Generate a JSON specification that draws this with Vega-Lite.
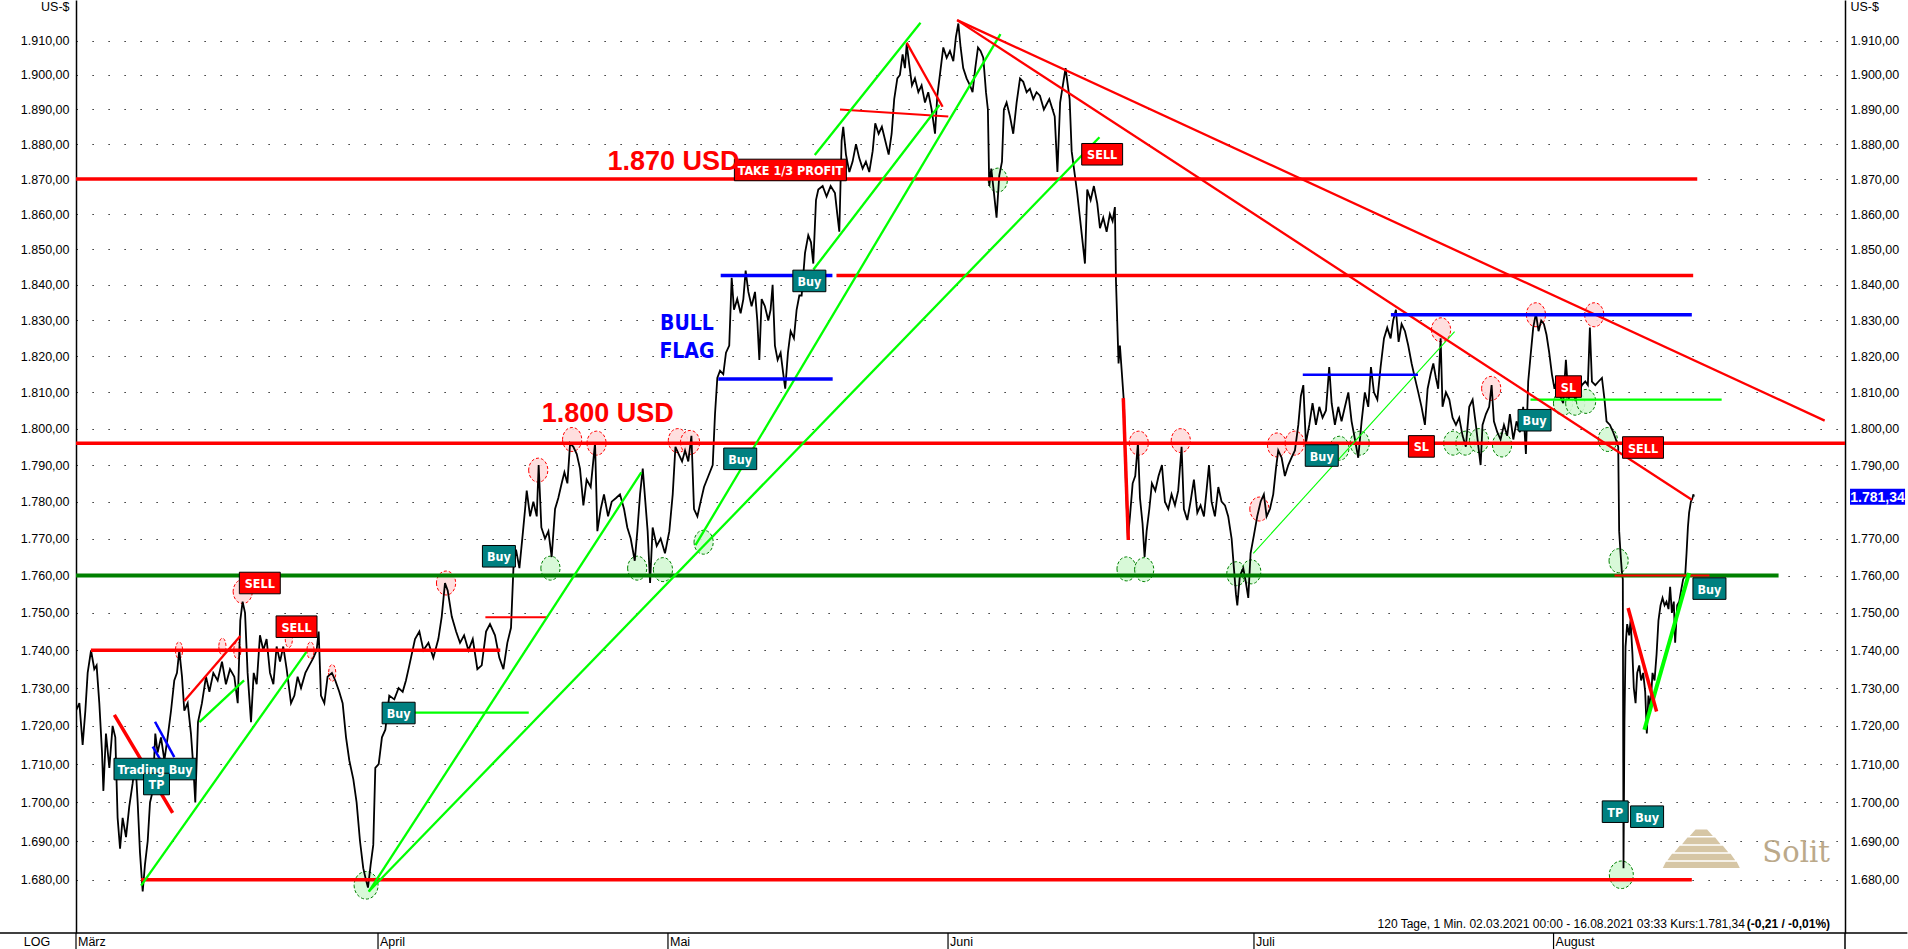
{
"$schema": "https://vega.github.io/schema/vega-lite/v6.json",
"width": 1769, "height": 933,
"autosize": "none",
"padding": {"left": 76, "top": 0, "right": 63, "bottom": 16},
"background": "white",
"config": {"view": {"stroke": null}, "font": "Liberation Sans"},
"resolve": {"axis": {"y": "independent"}},
"datasets": {
"price": [
{"t":0,"p":1724},{"t":0.25,"p":1726},{"t":0.49,"p":1715},{"t":0.69,"p":1724},{"t":0.86,"p":1734},{"t":1.11,"p":1740},{"t":1.35,"p":1735},{"t":1.52,"p":1736},{"t":1.72,"p":1726},{"t":1.92,"p":1713},{"t":2.02,"p":1703},{"t":2.21,"p":1718},{"t":2.46,"p":1709},{"t":2.7,"p":1720},{"t":2.9,"p":1717},{"t":3.07,"p":1696},{"t":3.25,"p":1688},{"t":3.44,"p":1696},{"t":3.69,"p":1691},{"t":3.93,"p":1699},{"t":4.18,"p":1705},{"t":4.38,"p":1711},{"t":4.55,"p":1700},{"t":4.72,"p":1687},{"t":4.92,"p":1677},{"t":5.09,"p":1684},{"t":5.29,"p":1690},{"t":5.46,"p":1700},{"t":5.66,"p":1703},{"t":5.85,"p":1718},{"t":6.02,"p":1713},{"t":6.27,"p":1717},{"t":6.52,"p":1711},{"t":6.76,"p":1717},{"t":7.01,"p":1724},{"t":7.25,"p":1732},{"t":7.45,"p":1734},{"t":7.62,"p":1740},{"t":7.82,"p":1733},{"t":7.99,"p":1724},{"t":8.24,"p":1726},{"t":8.48,"p":1718},{"t":8.66,"p":1709},{"t":8.8,"p":1700},{"t":9.0,"p":1721},{"t":9.29,"p":1726},{"t":9.59,"p":1733},{"t":9.84,"p":1729},{"t":10.13,"p":1734},{"t":10.45,"p":1732},{"t":10.77,"p":1737},{"t":11.06,"p":1731},{"t":11.36,"p":1735},{"t":11.68,"p":1733},{"t":11.93,"p":1726},{"t":12.12,"p":1748},{"t":12.29,"p":1753},{"t":12.47,"p":1750},{"t":12.66,"p":1734},{"t":12.91,"p":1721},{"t":13.11,"p":1734},{"t":13.33,"p":1731},{"t":13.57,"p":1744},{"t":13.82,"p":1740},{"t":14.06,"p":1743},{"t":14.31,"p":1734},{"t":14.56,"p":1731},{"t":14.8,"p":1741},{"t":15.05,"p":1737},{"t":15.29,"p":1741},{"t":15.54,"p":1735},{"t":15.86,"p":1726},{"t":16.11,"p":1728},{"t":16.35,"p":1733},{"t":16.6,"p":1730},{"t":16.92,"p":1734},{"t":17.21,"p":1736},{"t":17.51,"p":1738},{"t":17.75,"p":1740},{"t":17.9,"p":1745},{"t":18.07,"p":1728},{"t":18.32,"p":1726},{"t":18.56,"p":1733},{"t":18.88,"p":1734},{"t":19.13,"p":1732},{"t":19.42,"p":1729},{"t":19.67,"p":1726},{"t":19.92,"p":1717},{"t":20.16,"p":1711},{"t":20.46,"p":1706},{"t":20.7,"p":1700},{"t":20.95,"p":1690},{"t":21.19,"p":1683},{"t":21.39,"p":1680},{"t":21.54,"p":1678},{"t":21.74,"p":1684},{"t":21.93,"p":1689},{"t":22.08,"p":1709},{"t":22.33,"p":1710},{"t":22.57,"p":1717},{"t":22.82,"p":1719},{"t":23.11,"p":1728},{"t":23.48,"p":1727},{"t":23.8,"p":1730},{"t":24.1,"p":1729},{"t":24.34,"p":1732},{"t":24.59,"p":1736},
{"t":25.01,"p":1743},{"t":25.33,"p":1745},{"t":25.63,"p":1740},{"t":26.0,"p":1742},{"t":26.36,"p":1738},{"t":26.73,"p":1743},{"t":26.98,"p":1749},{"t":27.22,"p":1758},{"t":27.42,"p":1756},{"t":27.72,"p":1749},{"t":28.04,"p":1745},{"t":28.33,"p":1742},{"t":28.63,"p":1744},{"t":28.95,"p":1740},{"t":29.27,"p":1743},{"t":29.61,"p":1735},{"t":29.93,"p":1736},{"t":30.25,"p":1745},{"t":30.54,"p":1747},{"t":30.91,"p":1744},{"t":31.23,"p":1738},{"t":31.53,"p":1735},{"t":31.82,"p":1742},{"t":32.09,"p":1746},{"t":32.27,"p":1762},{"t":32.46,"p":1767},{"t":32.71,"p":1762},{"t":32.95,"p":1771},{"t":33.13,"p":1778},{"t":33.25,"p":1783},{"t":33.5,"p":1776},{"t":33.74,"p":1780},{"t":33.99,"p":1776},{"t":34.13,"p":1790},{"t":34.33,"p":1773},{"t":34.6,"p":1770},{"t":34.85,"p":1772},{"t":35.09,"p":1765},{"t":35.34,"p":1778},{"t":35.58,"p":1781},{"t":35.83,"p":1785},{"t":36.03,"p":1788},{"t":36.25,"p":1785},{"t":36.45,"p":1796},{"t":36.69,"p":1795},{"t":36.94,"p":1793},{"t":37.18,"p":1789},{"t":37.43,"p":1779},{"t":37.67,"p":1786},{"t":37.97,"p":1784},{"t":38.29,"p":1796},{"t":38.46,"p":1772},{"t":38.71,"p":1778},{"t":38.95,"p":1782},{"t":39.25,"p":1776},{"t":39.52,"p":1780},{"t":39.84,"p":1781},{"t":40.13,"p":1782},{"t":40.43,"p":1778},{"t":40.67,"p":1773},{"t":40.92,"p":1770},{"t":41.22,"p":1764},{"t":41.41,"p":1772},{"t":41.61,"p":1782},{"t":41.81,"p":1789},{"t":42.0,"p":1780},{"t":42.17,"p":1772},{"t":42.35,"p":1758},{"t":42.54,"p":1773},{"t":42.84,"p":1768},{"t":43.13,"p":1770},{"t":43.45,"p":1766},{"t":43.77,"p":1772},{"t":44.02,"p":1782},{"t":44.22,"p":1795},{"t":44.46,"p":1793},{"t":44.71,"p":1791},{"t":44.93,"p":1794},{"t":45.17,"p":1791},{"t":45.4,"p":1798},{"t":45.59,"p":1778},{"t":45.84,"p":1776},{"t":46.08,"p":1780},{"t":46.33,"p":1784},{"t":46.65,"p":1787},{"t":46.97,"p":1790},
{"t":47.14,"p":1804},{"t":47.31,"p":1814},{"t":47.51,"p":1816},{"t":47.75,"p":1815},{"t":47.95,"p":1821},{"t":48.19,"p":1823},{"t":48.37,"p":1842},{"t":48.54,"p":1833},{"t":48.78,"p":1836},{"t":49.03,"p":1832},{"t":49.23,"p":1836},{"t":49.4,"p":1844},{"t":49.6,"p":1838},{"t":49.84,"p":1834},{"t":50.09,"p":1838},{"t":50.26,"p":1830},{"t":50.41,"p":1819},{"t":50.58,"p":1836},{"t":50.82,"p":1834},{"t":51.07,"p":1830},{"t":51.24,"p":1833},{"t":51.39,"p":1840},{"t":51.56,"p":1823},{"t":51.76,"p":1819},{"t":51.98,"p":1821},{"t":52.18,"p":1815},{"t":52.32,"p":1811},{"t":52.52,"p":1821},{"t":52.72,"p":1827},{"t":52.96,"p":1825},{"t":53.16,"p":1833},{"t":53.36,"p":1837},{"t":53.53,"p":1837},{"t":53.78,"p":1849},{"t":54.02,"p":1854},{"t":54.22,"p":1852},{"t":54.39,"p":1846},{"t":54.59,"p":1864},{"t":54.76,"p":1867},{"t":55.08,"p":1868},{"t":55.37,"p":1865},{"t":55.67,"p":1868},{"t":55.99,"p":1866},{"t":56.16,"p":1860},{"t":56.31,"p":1855},{"t":56.48,"p":1881},{"t":56.6,"p":1885},{"t":56.8,"p":1877},{"t":57.05,"p":1872},{"t":57.29,"p":1875},{"t":57.54,"p":1880},{"t":57.78,"p":1876},{"t":58.03,"p":1873},{"t":58.27,"p":1875},{"t":58.52,"p":1872},{"t":58.77,"p":1878},{"t":58.96,"p":1886},{"t":59.21,"p":1883},{"t":59.45,"p":1885},{"t":59.7,"p":1881},{"t":59.95,"p":1877},{"t":60.17,"p":1883},{"t":60.36,"p":1893},{"t":60.59,"p":1899},{"t":60.78,"p":1900},{"t":60.98,"p":1906},{"t":61.15,"p":1902},{"t":61.28,"p":1909},{"t":61.47,"p":1903},{"t":61.67,"p":1897},{"t":61.89,"p":1899},{"t":62.14,"p":1895},{"t":62.38,"p":1897},{"t":62.63,"p":1892},{"t":62.87,"p":1895},{"t":63.12,"p":1890},{"t":63.37,"p":1883},{"t":63.54,"p":1894},{"t":63.73,"p":1900},{"t":63.98,"p":1908},{"t":64.23,"p":1905},{"t":64.47,"p":1907},{"t":64.72,"p":1904},{"t":64.91,"p":1911},{"t":65.09,"p":1915},{"t":65.26,"p":1908},{"t":65.45,"p":1902},{"t":65.7,"p":1899},{"t":65.95,"p":1897},{"t":66.14,"p":1895},{"t":66.34,"p":1902},{"t":66.54,"p":1908},{"t":66.73,"p":1907},{"t":66.93,"p":1905},{"t":67.13,"p":1895},{"t":67.27,"p":1890},{"t":67.37,"p":1868},{"t":67.52,"p":1873},{"t":67.72,"p":1866},{"t":67.91,"p":1859},{"t":68.11,"p":1871},{"t":68.31,"p":1875},{"t":68.45,"p":1890},{"t":68.65,"p":1892},{"t":68.9,"p":1888},{"t":69.14,"p":1883},{"t":69.39,"p":1892},{"t":69.64,"p":1899},{"t":69.88,"p":1898},{"t":70.13,"p":1895},{"t":70.37,"p":1896},{"t":70.62,"p":1893},{"t":70.86,"p":1895},{"t":71.11,"p":1894},
{"t":71.4,"p":1890},{"t":71.8,"p":1893},{"t":72.2,"p":1888},{"t":72.4,"p":1872},{"t":72.6,"p":1892},{"t":73.0,"p":1902},{"t":73.3,"p":1893},
{"t":73.45,"p":1878},{"t":73.69,"p":1871},{"t":73.86,"p":1866},{"t":74.06,"p":1859},{"t":74.26,"p":1852},{"t":74.43,"p":1846},{"t":74.6,"p":1867},{"t":74.85,"p":1864},{"t":75.09,"p":1868},{"t":75.34,"p":1863},{"t":75.54,"p":1856},{"t":75.78,"p":1859},{"t":76.03,"p":1855},{"t":76.27,"p":1860},{"t":76.47,"p":1858},{"t":76.64,"p":1862},{"t":76.72,"p":1841},{"t":76.81,"p":1830},{"t":76.91,"p":1818},{"t":77.01,"p":1823},{"t":77.16,"p":1815},{"t":77.31,"p":1807},{"t":77.45,"p":1785},{"t":77.6,"p":1770},{"t":77.75,"p":1776},{"t":77.95,"p":1785},{"t":78.14,"p":1787},{"t":78.34,"p":1796},{"t":78.49,"p":1781},{"t":78.68,"p":1774},{"t":78.83,"p":1765},{"t":78.98,"p":1772},{"t":79.18,"p":1778},{"t":79.37,"p":1785},{"t":79.62,"p":1783},{"t":79.86,"p":1787},{"t":80.11,"p":1790},{"t":80.33,"p":1780},{"t":80.58,"p":1778},{"t":80.82,"p":1782},{"t":81.07,"p":1779},{"t":81.31,"p":1783},{"t":81.56,"p":1795},{"t":81.73,"p":1778},{"t":81.98,"p":1775},{"t":82.22,"p":1780},{"t":82.47,"p":1786},{"t":82.72,"p":1777},{"t":82.96,"p":1779},{"t":83.21,"p":1776},{"t":83.4,"p":1783},{"t":83.58,"p":1790},{"t":83.77,"p":1780},{"t":84.02,"p":1776},{"t":84.27,"p":1784},{"t":84.51,"p":1780},{"t":84.76,"p":1779},{"t":85.0,"p":1776},{"t":85.25,"p":1770},{"t":85.42,"p":1762},{"t":85.57,"p":1755},{"t":85.67,"p":1752},{"t":85.86,"p":1760},{"t":86.11,"p":1762},{"t":86.31,"p":1758},{"t":86.48,"p":1754},{"t":86.65,"p":1766},{"t":86.9,"p":1771},{"t":87.14,"p":1776},{"t":87.39,"p":1780},{"t":87.63,"p":1782},{"t":87.83,"p":1776},{"t":88.08,"p":1778},{"t":88.32,"p":1782},{"t":88.52,"p":1789},{"t":88.69,"p":1794},{"t":88.94,"p":1792},{"t":89.18,"p":1787},{"t":89.43,"p":1790},{"t":89.67,"p":1792},{"t":89.92,"p":1794},{"t":90.17,"p":1801},{"t":90.36,"p":1809},{"t":90.54,"p":1812},{"t":90.73,"p":1796},{"t":90.98,"p":1801},{"t":91.22,"p":1807},{"t":91.47,"p":1801},{"t":91.72,"p":1806},{"t":91.96,"p":1803},{"t":92.21,"p":1805},{"t":92.45,"p":1817},{"t":92.63,"p":1807},{"t":92.87,"p":1801},{"t":93.12,"p":1806},
{"t":93.36,"p":1802},{"t":93.61,"p":1806},{"t":93.86,"p":1810},{"t":94.1,"p":1802},{"t":94.35,"p":1797},{"t":94.59,"p":1792},{"t":94.84,"p":1802},{"t":95.08,"p":1810},{"t":95.33,"p":1806},{"t":95.53,"p":1817},{"t":95.75,"p":1810},{"t":96.0,"p":1808},{"t":96.24,"p":1817},{"t":96.49,"p":1825},{"t":96.73,"p":1828},{"t":96.98,"p":1825},{"t":97.17,"p":1830},{"t":97.37,"p":1833},{"t":97.57,"p":1824},{"t":97.79,"p":1829},{"t":98.04,"p":1827},{"t":98.28,"p":1823},{"t":98.53,"p":1818},{"t":98.77,"p":1814},{"t":99.02,"p":1810},{"t":99.26,"p":1806},{"t":99.51,"p":1801},{"t":99.71,"p":1811},{"t":99.93,"p":1815},{"t":100.13,"p":1818},{"t":100.32,"p":1814},{"t":100.49,"p":1811},{"t":100.67,"p":1825},{"t":100.81,"p":1806},{"t":101.06,"p":1810},{"t":101.31,"p":1808},{"t":101.55,"p":1803},{"t":101.8,"p":1801},{"t":102.04,"p":1803},{"t":102.29,"p":1798},{"t":102.53,"p":1795},{"t":102.78,"p":1806},{"t":103.03,"p":1808},{"t":103.27,"p":1801},{"t":103.52,"p":1793},{"t":103.62,"p":1790},{"t":103.76,"p":1801},{"t":104.01,"p":1804},{"t":104.25,"p":1806},{"t":104.43,"p":1812},{"t":104.6,"p":1802},{"t":104.85,"p":1799},{"t":105.09,"p":1797},{"t":105.34,"p":1801},{"t":105.58,"p":1798},{"t":105.78,"p":1804},{"t":106.03,"p":1797},{"t":106.27,"p":1802},{"t":106.52,"p":1799},{"t":106.76,"p":1806},{"t":106.96,"p":1793},{"t":107.13,"p":1813},{"t":107.3,"p":1820},{"t":107.5,"p":1828},{"t":107.7,"p":1832},{"t":107.89,"p":1827},{"t":108.09,"p":1830},{"t":108.29,"p":1829},{"t":108.48,"p":1826},{"t":108.68,"p":1821},{"t":108.88,"p":1815},{"t":109.07,"p":1811},{"t":109.27,"p":1814},{"t":109.47,"p":1809},{"t":109.71,"p":1807},{"t":109.91,"p":1819},{"t":110.11,"p":1808},{"t":110.35,"p":1811},{"t":110.6,"p":1808},{"t":110.85,"p":1810},{"t":111.09,"p":1812},{"t":111.34,"p":1813},{"t":111.53,"p":1812},{"t":111.68,"p":1828},{"t":111.83,"p":1813},{"t":112.08,"p":1812},{"t":112.32,"p":1813},{"t":112.57,"p":1814},{"t":112.76,"p":1808},{"t":112.91,"p":1802},{"t":113.16,"p":1801},{"t":113.4,"p":1799},{"t":113.6,"p":1797},
{"t":113.77,"p":1795},{"t":113.84,"p":1772},{"t":113.94,"p":1766},{"t":114.04,"p":1761},{"t":114.11,"p":1759},{"t":114.16,"p":1683},{"t":114.23,"p":1721},{"t":114.31,"p":1741},{"t":114.43,"p":1747},{"t":114.58,"p":1744},{"t":114.68,"p":1748},{"t":114.82,"p":1739},{"t":114.92,"p":1730},{"t":115.05,"p":1726},{"t":115.17,"p":1734},{"t":115.32,"p":1736},{"t":115.46,"p":1732},{"t":115.61,"p":1734},{"t":115.76,"p":1729},{"t":115.88,"p":1718},{"t":116.0,"p":1728},{"t":116.15,"p":1725},{"t":116.3,"p":1734},{"t":116.45,"p":1732},{"t":116.6,"p":1739},{"t":116.74,"p":1748},{"t":116.89,"p":1752},{"t":117.04,"p":1754},{"t":117.19,"p":1752},{"t":117.33,"p":1753},{"t":117.48,"p":1751},{"t":117.6,"p":1757},{"t":117.73,"p":1750},{"t":117.87,"p":1753},{"t":117.97,"p":1742},{"t":118.12,"p":1752},{"t":118.27,"p":1753},{"t":118.41,"p":1756},{"t":118.56,"p":1759},{"t":118.71,"p":1760},{"t":118.81,"p":1766},{"t":118.91,"p":1773},{"t":119.0,"p":1777},{"t":119.13,"p":1780},{"t":119.25,"p":1781},{"t":119.32,"p":1782},{"t":119.35,"p":1781.34}
],
"circles": [
{"t":12.3,"p":1755.7,"side":"high","form":"normal"},{"t":7.6,"p":1740,"side":"high","form":"narrow"},{"t":10.8,"p":1741,"side":"high","form":"narrow"},{"t":11.9,"p":1740,"side":"high","form":"narrow"},{"t":15.7,"p":1743,"side":"high","form":"narrow"},{"t":17.3,"p":1740,"side":"high","form":"narrow"},{"t":18.9,"p":1734,"side":"high","form":"narrow"},{"t":27.3,"p":1758,"side":"high","form":"normal"},{"t":34.1,"p":1788.6,"side":"high","form":"normal"},{"t":36.6,"p":1797,"side":"high","form":"normal"},{"t":38.4,"p":1796,"side":"high","form":"normal"},{"t":44.4,"p":1796.7,"side":"high","form":"normal"},{"t":45.3,"p":1796.2,"side":"high","form":"normal"},{"t":78.4,"p":1796,"side":"high","form":"normal"},{"t":81.5,"p":1796.7,"side":"high","form":"normal"},{"t":87.3,"p":1778,"side":"high","form":"normal"},{"t":88.6,"p":1795.5,"side":"high","form":"normal"},{"t":89.9,"p":1796,"side":"high","form":"normal"},{"t":100.7,"p":1827.4,"side":"high","form":"normal"},{"t":104.4,"p":1811.1,"side":"high","form":"normal"},{"t":107.7,"p":1831.6,"side":"high","form":"normal"},{"t":112.0,"p":1831.6,"side":"high","form":"normal"},
{"t":21.4,"p":1678.6,"side":"low","form":"big"},{"t":35.0,"p":1762,"side":"low","form":"normal"},{"t":41.4,"p":1762,"side":"low","form":"normal"},{"t":43.3,"p":1761.6,"side":"low","form":"normal"},{"t":46.3,"p":1769,"side":"low","form":"normal"},{"t":68.0,"p":1869.7,"side":"low","form":"normal"},{"t":77.5,"p":1761.8,"side":"low","form":"normal"},{"t":78.8,"p":1761.6,"side":"low","form":"normal"},{"t":85.6,"p":1760.5,"side":"low","form":"normal"},{"t":86.7,"p":1761,"side":"low","form":"normal"},{"t":93.2,"p":1794.6,"side":"low","form":"normal"},{"t":94.7,"p":1796,"side":"low","form":"normal"},{"t":101.6,"p":1796,"side":"low","form":"normal"},{"t":102.5,"p":1796,"side":"low","form":"normal"},{"t":103.5,"p":1796.7,"side":"low","form":"normal"},{"t":105.2,"p":1795.5,"side":"low","form":"normal"},{"t":109.7,"p":1807,"side":"low","form":"normal"},{"t":110.6,"p":1807,"side":"low","form":"normal"},{"t":111.4,"p":1807.5,"side":"low","form":"normal"},{"t":113.0,"p":1797,"side":"low","form":"normal"},{"t":113.8,"p":1764,"side":"low","form":"normal"},{"t":114.0,"p":1681.3,"side":"low","form":"big"}
],
"segs": [
{"t1":0,"p1":1760,"t2":125.6,"p2":1760,"kind":"support"},
{"t1":0,"p1":1870,"t2":119.6,"p2":1870,"kind":"level"},
{"t1":56.1,"p1":1842.6,"t2":119.3,"p2":1842.6,"kind":"level"},
{"t1":0,"p1":1796,"t2":130.5,"p2":1796,"kind":"level"},
{"t1":4.8,"p1":1680,"t2":119.2,"p2":1680,"kind":"level"},
{"t1":1.1,"p1":1740,"t2":31.3,"p2":1740,"kind":"level"},
{"t1":30.2,"p1":1748.8,"t2":34.8,"p2":1748.8,"kind":"levelThin"},
{"t1":56.36,"p1":1890,"t2":64.35,"p2":1888,"kind":"levelThin"},
{"t1":113.5,"p1":1760,"t2":120.5,"p2":1760,"kind":"levelThin"},
{"t1":23.4,"p1":1723.5,"t2":33.4,"p2":1723.5,"kind":"stop"},
{"t1":107.3,"p1":1808,"t2":121.4,"p2":1808,"kind":"stop"},
{"t1":4.8,"p1":1678.5,"t2":17.0,"p2":1739.6,"kind":"trend"},
{"t1":9.1,"p1":1721,"t2":12.4,"p2":1732,"kind":"trend"},
{"t1":21.6,"p1":1677,"t2":41.7,"p2":1788,"kind":"trend"},
{"t1":21.6,"p1":1677,"t2":75.5,"p2":1882,"kind":"trend"},
{"t1":45.7,"p1":1768.2,"t2":68.2,"p2":1911.9,"kind":"trend"},
{"t1":54.5,"p1":1876.9,"t2":62.3,"p2":1915.2,"kind":"trend"},
{"t1":54.4,"p1":1844.3,"t2":63.7,"p2":1891.3,"kind":"trend"},
{"t1":86.85,"p1":1766,"t2":101.7,"p2":1826.9,"kind":"trendThin"},
{"t1":115.7,"p1":1719,"t2":119.0,"p2":1760.7,"kind":"trendThick"},
{"t1":65.0,"p1":1916,"t2":129.0,"p2":1802.2,"kind":"trendRed"},
{"t1":65.0,"p1":1916,"t2":119.2,"p2":1780.5,"kind":"trendRed"},
{"t1":7.99,"p1":1726.6,"t2":12.12,"p2":1743.8,"kind":"trendRed"},
{"t1":61.28,"p1":1909.4,"t2":63.93,"p2":1890.8,"kind":"trendRed"},
{"t1":114.5,"p1":1751.3,"t2":116.6,"p2":1723.8,"kind":"trendRedThick"},
{"t1":2.83,"p1":1722.9,"t2":7.13,"p2":1697.3,"kind":"trendRedThick"},
{"t1":77.26,"p1":1808.4,"t2":77.63,"p2":1769.6,"kind":"trendRedThick"},
{"t1":47.56,"p1":1842.6,"t2":55.8,"p2":1842.6,"kind":"flag"},
{"t1":47.38,"p1":1813.7,"t2":55.82,"p2":1813.7,"kind":"flag"},
{"t1":97.0,"p1":1831.6,"t2":119.2,"p2":1831.6,"kind":"flag"},
{"t1":90.5,"p1":1814.9,"t2":99.0,"p2":1814.9,"kind":"flagThin"},
{"t1":5.83,"p1":1721.1,"t2":7.25,"p2":1711.8,"kind":"flagThin"},
{"t1":5.66,"p1":1714.6,"t2":6.59,"p2":1708.9,"kind":"flagThin"}
],
"labels": [
{"t":5.83,"p":1708.7,"text":"Trading Buy","kind":"buy"},
{"t":5.94,"p":1704.8,"text":"TP","kind":"buy"},
{"t":23.8,"p":1723.4,"text":"Buy","kind":"buy"},
{"t":31.2,"p":1765.2,"text":"Buy","kind":"buy"},
{"t":49.0,"p":1791.7,"text":"Buy","kind":"buy"},
{"t":54.1,"p":1841.1,"text":"Buy","kind":"buy"},
{"t":91.9,"p":1792.6,"text":"Buy","kind":"buy"},
{"t":107.6,"p":1802.3,"text":"Buy","kind":"buy"},
{"t":120.5,"p":1756.5,"text":"Buy","kind":"buy"},
{"t":113.55,"p":1697.6,"text":"TP","kind":"buy"},
{"t":115.9,"p":1696.3,"text":"Buy","kind":"buy"},
{"t":13.56,"p":1758.0,"text":"SELL","kind":"sell"},
{"t":16.27,"p":1746.3,"text":"SELL","kind":"sell"},
{"t":52.7,"p":1872.6,"text":"TAKE 1/3 PROFIT","kind":"sell"},
{"t":75.7,"p":1877.1,"text":"SELL","kind":"sell"},
{"t":99.25,"p":1795.1,"text":"SL","kind":"sell"},
{"t":110.1,"p":1811.6,"text":"SL","kind":"sell"},
{"t":115.6,"p":1794.8,"text":"SELL","kind":"sell"}
],
"notes": [
{"t":39.2,"p":1872.6,"text":"1.870 USD","kind":"level"},
{"t":34.35,"p":1801.9,"text":"1.800 USD","kind":"level"},
{"t":45.07,"p":1827.3,"text":"BULL","kind":"flag"},
{"t":45.07,"p":1819.4,"text":"FLAG","kind":"flag"},
{"t":123.12,"p":1668.6,"text":"120 Tage, 1 Min. 02.03.2021 00:00 - 16.08.2021 03:33  Kurs:1.781,34","kind":"info"},
{"t":129.4,"p":1668.6,"text":"(-0,21 / -0,01%)","kind":"infoBold"},
{"t":124.4,"p":1684.7,"text":"Solit","kind":"brand"},
{"t":0,"p":1664.2,"text":"März","kind":"month"},
{"t":22.28,"p":1664.2,"text":"April","kind":"month"},
{"t":43.67,"p":1664.2,"text":"Mai","kind":"month"},
{"t":64.33,"p":1664.2,"text":"Juni","kind":"month"},
{"t":86.9,"p":1664.2,"text":"Juli","kind":"month"},
{"t":109.0,"p":1664.2,"text":"August","kind":"month"},
{"t":-2.88,"p":1664.2,"text":"LOG","kind":"axisName"}
],
"logo": [{"t":119.9,"p":1688.0}],
"tag": [{"t":132.9,"p":1781.34,"text":"1.781,34"}]
},
"layer": [
{"data":{"name":"circles"},"transform":[{"filter":"datum.side === 'high'"}],
 "mark":{"type":"point","filled":true,"size":576,"fill":"#ffdcdc","stroke":"#ff0000","strokeWidth":1,"strokeDash":[3,2],"opacity":1,"fillOpacity":0.9},
 "encoding":{
  "x":{"field":"t","type":"quantitative","scale":{"domain":[0,130.5],"nice":false,"zero":false},
   "axis":{"values":[0,22.28,43.67,64.33,86.9,109.0],"labels":false,"grid":false,"domain":true,"domainColor":"#000000","domainWidth":1.5,"ticks":true,"tickSize":16,"tickColor":"#000000","tickWidth":1,"title":null}},
  "y":{"field":"p","type":"quantitative","scale":{"type":"log","domain":[1666.4,1921.9],"nice":false,"zero":false},"axis":null},
  "shape":{"field":"form","type":"nominal","legend":null,"scale":{"domain":["normal","big","narrow","Buy","SELL","TP","SL","Trading Buy","TAKE 1/3 PROFIT"],"range":["M-0.8,0A0.8,1 0 1,0 0.8,0A0.8,1 0 1,0 -0.8,0Z","M-1,0A1,1.15 0 1,0 1,0A1,1.15 0 1,0 -1,0Z","M-0.3,0A0.3,0.7 0 1,0 0.3,0A0.3,0.7 0 1,0 -0.3,0Z","M-1.5,-0.98H1.5V0.98H-1.5Z","M-1.86,-0.98H1.86V0.98H-1.86Z","M-1.18,-0.98H1.18V0.98H-1.18Z","M-1.18,-0.98H1.18V0.98H-1.18Z","M-3.73,-0.98H3.73V0.98H-3.73Z","M-5.09,-0.98H5.09V0.98H-5.09Z"]}}
 }},
{"data":{"name":"circles"},"transform":[{"filter":"datum.side === 'low'"}],
 "mark":{"type":"point","filled":true,"size":576,"fill":"#d4f8d4","stroke":"#008000","strokeWidth":1,"strokeDash":[3,2],"opacity":1,"fillOpacity":0.9},
 "encoding":{
  "x":{"field":"t","type":"quantitative","axis":null},
  "y":{"field":"p","type":"quantitative","axis":null},
  "shape":{"field":"form","type":"nominal","legend":null,"scale":{"domain":["normal","big","narrow","Buy","SELL","TP","SL","Trading Buy","TAKE 1/3 PROFIT"],"range":["M-0.8,0A0.8,1 0 1,0 0.8,0A0.8,1 0 1,0 -0.8,0Z","M-1,0A1,1.15 0 1,0 1,0A1,1.15 0 1,0 -1,0Z","M-0.3,0A0.3,0.7 0 1,0 0.3,0A0.3,0.7 0 1,0 -0.3,0Z","M-1.5,-0.98H1.5V0.98H-1.5Z","M-1.86,-0.98H1.86V0.98H-1.86Z","M-1.18,-0.98H1.18V0.98H-1.18Z","M-1.18,-0.98H1.18V0.98H-1.18Z","M-3.73,-0.98H3.73V0.98H-3.73Z","M-5.09,-0.98H5.09V0.98H-5.09Z"]}}
 }},
{"data":{"name":"price"},
 "mark":{"type":"line","color":"#000000","strokeWidth":1.8,"clip":true,"strokeJoin":"miter"},
 "encoding":{
  "x":{"field":"t","type":"quantitative","axis":null},
  "y":{"field":"p","type":"quantitative","axis":{"orient":"left","values":[1680,1690,1700,1710,1720,1730,1740,1750,1760,1770,1780,1790,1800,1810,1820,1830,1840,1850,1860,1870,1880,1890,1900,1910],"labelExpr":"replace(replace(replace(format(datum.value, ',.2f'), ',', 'T'), '.', ','), 'T', '.')","grid":true,"gridDash":[1.2,14.8],"gridColor":"#000000","gridWidth":1.2,"gridOpacity":1,"domain":true,"domainColor":"#000000","domainWidth":1.5,"ticks":false,"labelPadding":7,"labelFontSize":12.5,"labelColor":"#000000","labelFont":"Liberation Sans","labelOverlap":false,"labelFlush":false,"title":"US-$","titleAngle":0,"titleX":-7,"titleY":6,"titleAlign":"right","titleBaseline":"middle","titleFontWeight":"normal","titleFontSize":12.5,"titleColor":"#000000","titleFont":"Liberation Sans"}}
 }},
{"data":{"name":"notes"},"transform":[{"filter":"datum.kind === 'month'"}],
 "mark":{"type":"rule","color":"#000000","strokeWidth":1.2},
 "encoding":{"x":{"field":"t","type":"quantitative","axis":null},"y":{"datum":1666.4,"type":"quantitative","axis":null},"y2":{"datum":1662.3}}},
{"data":{"name":"logo"},
 "mark":{"type":"rule","color":"#000000","strokeWidth":1.5},
 "encoding":{"x":{"datum":-5.61,"type":"quantitative","axis":null},"x2":{"datum":135.1},"y":{"datum":1666.4,"type":"quantitative","axis":null}}},
{"data":{"name":"logo"},
 "mark":{"type":"rule","color":"#000000","strokeWidth":1.5},
 "encoding":{"x":{"datum":130.5,"type":"quantitative","axis":null},"y":{"datum":1666.4,"type":"quantitative","axis":null},"y2":{"datum":1662.3}}},
{"data":{"name":"segs"},"transform":[{"filter":"datum.kind === 'support'"}],"mark":{"type":"rule","color":"#008000","strokeWidth":4},
 "encoding":{"x":{"field":"t1","type":"quantitative","axis":null},"x2":{"field":"t2"},"y":{"field":"p1","type":"quantitative","axis":null},"y2":{"field":"p2"}}},
{"data":{"name":"segs"},"transform":[{"filter":"datum.kind === 'level'"}],"mark":{"type":"rule","color":"#ff0000","strokeWidth":3.5},
 "encoding":{"x":{"field":"t1","type":"quantitative","axis":null},"x2":{"field":"t2"},"y":{"field":"p1","type":"quantitative","axis":null},"y2":{"field":"p2"}}},
{"data":{"name":"segs"},"transform":[{"filter":"datum.kind === 'levelThin'"}],"mark":{"type":"rule","color":"#ff0000","strokeWidth":2},
 "encoding":{"x":{"field":"t1","type":"quantitative","axis":null},"x2":{"field":"t2"},"y":{"field":"p1","type":"quantitative","axis":null},"y2":{"field":"p2"}}},
{"data":{"name":"segs"},"transform":[{"filter":"datum.kind === 'stop'"}],"mark":{"type":"rule","color":"#00ff00","strokeWidth":2.2},
 "encoding":{"x":{"field":"t1","type":"quantitative","axis":null},"x2":{"field":"t2"},"y":{"field":"p1","type":"quantitative","axis":null},"y2":{"field":"p2"}}},
{"data":{"name":"segs"},"transform":[{"filter":"datum.kind === 'trend'"}],"mark":{"type":"rule","color":"#00ff00","strokeWidth":2.3},
 "encoding":{"x":{"field":"t1","type":"quantitative","axis":null},"x2":{"field":"t2"},"y":{"field":"p1","type":"quantitative","axis":null},"y2":{"field":"p2"}}},
{"data":{"name":"segs"},"transform":[{"filter":"datum.kind === 'trendThin'"}],"mark":{"type":"rule","color":"#00ff00","strokeWidth":1.1},
 "encoding":{"x":{"field":"t1","type":"quantitative","axis":null},"x2":{"field":"t2"},"y":{"field":"p1","type":"quantitative","axis":null},"y2":{"field":"p2"}}},
{"data":{"name":"segs"},"transform":[{"filter":"datum.kind === 'trendThick'"}],"mark":{"type":"rule","color":"#00ff00","strokeWidth":4},
 "encoding":{"x":{"field":"t1","type":"quantitative","axis":null},"x2":{"field":"t2"},"y":{"field":"p1","type":"quantitative","axis":null},"y2":{"field":"p2"}}},
{"data":{"name":"segs"},"transform":[{"filter":"datum.kind === 'trendRed'"}],"mark":{"type":"rule","color":"#ff0000","strokeWidth":2.3},
 "encoding":{"x":{"field":"t1","type":"quantitative","axis":null},"x2":{"field":"t2"},"y":{"field":"p1","type":"quantitative","axis":null},"y2":{"field":"p2"}}},
{"data":{"name":"segs"},"transform":[{"filter":"datum.kind === 'trendRedThick'"}],"mark":{"type":"rule","color":"#ff0000","strokeWidth":3.5},
 "encoding":{"x":{"field":"t1","type":"quantitative","axis":null},"x2":{"field":"t2"},"y":{"field":"p1","type":"quantitative","axis":null},"y2":{"field":"p2"}}},
{"data":{"name":"segs"},"transform":[{"filter":"datum.kind === 'flag'"}],"mark":{"type":"rule","color":"#0000ff","strokeWidth":3.5},
 "encoding":{"x":{"field":"t1","type":"quantitative","axis":null},"x2":{"field":"t2"},"y":{"field":"p1","type":"quantitative","axis":null},"y2":{"field":"p2"}}},
{"data":{"name":"segs"},"transform":[{"filter":"datum.kind === 'flagThin'"}],"mark":{"type":"rule","color":"#0000ff","strokeWidth":2.5},
 "encoding":{"x":{"field":"t1","type":"quantitative","axis":null},"x2":{"field":"t2"},"y":{"field":"p1","type":"quantitative","axis":null},"y2":{"field":"p2"}}},
{"data":{"name":"labels"},"transform":[{"filter":"datum.kind === 'buy'"}],
 "mark":{"type":"point","filled":true,"size":484,"fill":"#008080","stroke":"#000000","strokeWidth":1,"opacity":1},
 "encoding":{
  "x":{"field":"t","type":"quantitative","axis":null},
  "y":{"field":"p","type":"quantitative","axis":null},
  "shape":{"field":"text","type":"nominal","legend":null,"scale":{"domain":["normal","big","narrow","Buy","SELL","TP","SL","Trading Buy","TAKE 1/3 PROFIT"],"range":["M-0.8,0A0.8,1 0 1,0 0.8,0A0.8,1 0 1,0 -0.8,0Z","M-1,0A1,1.15 0 1,0 1,0A1,1.15 0 1,0 -1,0Z","M-0.3,0A0.3,0.7 0 1,0 0.3,0A0.3,0.7 0 1,0 -0.3,0Z","M-1.5,-0.98H1.5V0.98H-1.5Z","M-1.86,-0.98H1.86V0.98H-1.86Z","M-1.18,-0.98H1.18V0.98H-1.18Z","M-1.18,-0.98H1.18V0.98H-1.18Z","M-3.73,-0.98H3.73V0.98H-3.73Z","M-5.09,-0.98H5.09V0.98H-5.09Z"]}}
 }},
{"data":{"name":"labels"},"transform":[{"filter":"datum.kind === 'sell'"}],
 "mark":{"type":"point","filled":true,"size":484,"fill":"#ff0000","stroke":"#000000","strokeWidth":1,"opacity":1},
 "encoding":{
  "x":{"field":"t","type":"quantitative","axis":null},
  "y":{"field":"p","type":"quantitative","axis":null},
  "shape":{"field":"text","type":"nominal","legend":null,"scale":{"domain":["normal","big","narrow","Buy","SELL","TP","SL","Trading Buy","TAKE 1/3 PROFIT"],"range":["M-0.8,0A0.8,1 0 1,0 0.8,0A0.8,1 0 1,0 -0.8,0Z","M-1,0A1,1.15 0 1,0 1,0A1,1.15 0 1,0 -1,0Z","M-0.3,0A0.3,0.7 0 1,0 0.3,0A0.3,0.7 0 1,0 -0.3,0Z","M-1.5,-0.98H1.5V0.98H-1.5Z","M-1.86,-0.98H1.86V0.98H-1.86Z","M-1.18,-0.98H1.18V0.98H-1.18Z","M-1.18,-0.98H1.18V0.98H-1.18Z","M-3.73,-0.98H3.73V0.98H-3.73Z","M-5.09,-0.98H5.09V0.98H-5.09Z"]}}
 }},
{"data":{"name":"labels"},
 "mark":{"type":"text","color":"#ffffff","font":"Liberation Sans Narrow, DejaVu Sans Condensed, sans-serif","fontWeight":"bold","fontSize":12.5,"align":"center","baseline":"middle","dy":1},
 "encoding":{"x":{"field":"t","type":"quantitative","axis":null},"y":{"field":"p","type":"quantitative","axis":null},"text":{"field":"text"}}},
{"data":{"name":"notes"},"transform":[{"filter":"datum.kind === 'level'"}],
 "mark":{"type":"text","color":"#ff0000","font":"Liberation Sans","fontWeight":"bold","fontSize":27,"align":"left","baseline":"alphabetic"},
 "encoding":{"x":{"field":"t","type":"quantitative","axis":null},"y":{"field":"p","type":"quantitative","axis":null},"text":{"field":"text"}}},
{"data":{"name":"notes"},"transform":[{"filter":"datum.kind === 'flag'"}],
 "mark":{"type":"text","color":"#0000ff","font":"DejaVu Sans Condensed, DejaVu Sans","fontWeight":"bold","fontSize":21,"align":"center","baseline":"alphabetic"},
 "encoding":{"x":{"field":"t","type":"quantitative","axis":null},"y":{"field":"p","type":"quantitative","axis":null},"text":{"field":"text"}}},
{"data":{"name":"notes"},"transform":[{"filter":"datum.kind === 'info'"}],
 "mark":{"type":"text","color":"#000000","font":"Liberation Sans","fontSize":12,"align":"right","baseline":"middle"},
 "encoding":{"x":{"field":"t","type":"quantitative","axis":null},"y":{"field":"p","type":"quantitative","axis":null},"text":{"field":"text"}}},
{"data":{"name":"notes"},"transform":[{"filter":"datum.kind === 'infoBold'"}],
 "mark":{"type":"text","color":"#000000","font":"Liberation Sans","fontWeight":"bold","fontSize":12,"align":"right","baseline":"middle"},
 "encoding":{"x":{"field":"t","type":"quantitative","axis":null},"y":{"field":"p","type":"quantitative","axis":null},"text":{"field":"text"}}},
{"data":{"name":"notes"},"transform":[{"filter":"datum.kind === 'month'"}],
 "mark":{"type":"text","color":"#000000","font":"Liberation Sans","fontSize":12.5,"align":"left","baseline":"middle","dx":2},
 "encoding":{"x":{"field":"t","type":"quantitative","axis":null},"y":{"field":"p","type":"quantitative","axis":null},"text":{"field":"text"}}},
{"data":{"name":"notes"},"transform":[{"filter":"datum.kind === 'axisName'"}],
 "mark":{"type":"text","color":"#000000","font":"Liberation Sans","fontSize":12.5,"align":"center","baseline":"middle"},
 "encoding":{"x":{"field":"t","type":"quantitative","axis":null},"y":{"field":"p","type":"quantitative","axis":null},"text":{"field":"text"}}},
{"data":{"name":"notes"},"transform":[{"filter":"datum.kind === 'brand'"}],
 "mark":{"type":"text","color":"#bba98a","font":"DejaVu Serif","fontSize":29,"align":"left","baseline":"alphabetic"},
 "encoding":{"x":{"field":"t","type":"quantitative","axis":null},"y":{"field":"p","type":"quantitative","axis":null},"text":{"field":"text"}}},
{"data":{"name":"logo"},
 "mark":{"type":"point","filled":true,"size":5929,"fill":"#d6c6a5","strokeWidth":0,"opacity":1,"shape":"M-0.15,-0.5L0.15,-0.5L0.3,-0.33L-0.3,-0.33Z M-0.36,-0.29L0.36,-0.29L0.5,-0.12L-0.5,-0.12Z M-0.56,-0.08L0.56,-0.08L0.7,0.09L-0.7,0.09Z M-0.76,0.13L0.76,0.13L0.88,0.3L-0.88,0.3Z M-0.92,0.34L0.92,0.34L1,0.5L-1,0.5Z"},
 "encoding":{"x":{"field":"t","type":"quantitative","axis":null},"y":{"field":"p","type":"quantitative","axis":null}}},
{"data":{"name":"tag"},
 "mark":{"type":"point","filled":true,"size":256,"fill":"#0000ff","strokeWidth":0,"opacity":1,"shape":"M-3.44,-1H3.44V1H-3.44Z"},
 "encoding":{"x":{"field":"t","type":"quantitative","axis":null},
  "y":{"field":"p","type":"quantitative","axis":{"orient":"right","values":[1680,1690,1700,1710,1720,1730,1740,1750,1760,1770,1790,1800,1810,1820,1830,1840,1850,1860,1870,1880,1890,1900,1910],"labelExpr":"replace(replace(replace(format(datum.value, ',.2f'), ',', 'T'), '.', ','), 'T', '.')","grid":false,"domain":true,"domainColor":"#000000","domainWidth":1.5,"ticks":false,"labelPadding":5,"labelFontSize":12.5,"labelColor":"#000000","labelFont":"Liberation Sans","labelOverlap":false,"labelFlush":false,"title":"US-$","titleAngle":0,"titleX":5,"titleY":6,"titleAlign":"left","titleBaseline":"middle","titleFontWeight":"normal","titleFontSize":12.5,"titleColor":"#000000","titleFont":"Liberation Sans"}}}},
{"data":{"name":"tag"},
 "mark":{"type":"text","color":"#ffffff","font":"Liberation Sans","fontWeight":"bold","fontSize":14,"align":"center","baseline":"middle","dy":1},
 "encoding":{"x":{"field":"t","type":"quantitative","axis":null},"y":{"field":"p","type":"quantitative","axis":null},"text":{"field":"text"}}}
]
}
